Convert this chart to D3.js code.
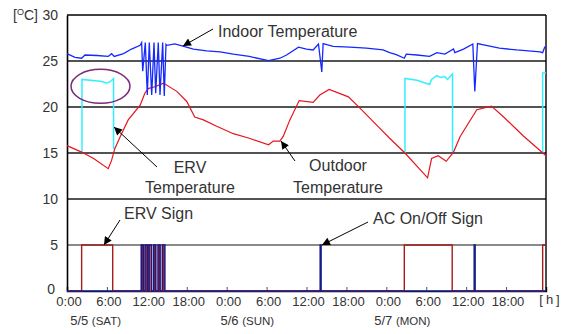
<!DOCTYPE html>
<html><head><meta charset="utf-8">
<script src="https://cdn.jsdelivr.net/npm/d3@7"></script>
<style>
body{margin:0;background:#fff;}
text{font-family:"Liberation Sans",Arial,sans-serif;fill:#333;}
</style></head>
<body><svg id="c" width="570" height="334"></svg>
<script>
// ---- data (hours since 5/5 0:00) ----
const xTickHours = [0,6,12,18,24,30,36,42,48,54,60,66];
const xTickLabels = ["0:00","6:00","12:00","18:00","0:00","6:00","12:00","18:00","0:00","6:00","12:00","18:00"];
const yTicks = [0,5,10,15,20,25,30];
const dayLabels = [["5/5 ","(SAT)"],["5/6 ","(SUN)"],["5/7 ","(MON)"]];
const dayLabelHours = [4.3,27.1,50.4];

const indoorHours = [0,1.2,2.2,2.7,4.5,6.2,6.7,7.1,8.5,9.7,11,
  11.22,11.38,11.77,12.07,12.37,12.73,13.08,13.33,13.72,13.98,14.38,14.62,14.88,
  15,16.2,17.7,19,21,23,25,27.4,28,30.3,32,33,34.8,36,37,37.8,38.3,38.5,40,42.5,45,47.5,48.5,49.5,
  50.7,51,52.6,54.5,55.6,56.8,58.1,58.3,59.6,61,61.3,61.7,63,65,67.6,71.1,71.5,71.8,72];
const indoorTemp = [25.8,25.4,25.3,25.65,25.6,25.5,25.8,25.5,25.8,26.3,26.7,
  27.0,23.9,27.0,21.3,27.0,21.3,27.0,21.5,27.0,21.3,27.0,21.2,26.8,
  26.7,26.85,26.55,26.3,26.1,26.0,25.75,25.5,25.4,25.05,25.3,25.65,26.5,26.3,26.2,26.85,23.8,26.9,26.6,26.5,26.4,26.2,25.9,25.7,
  25.3,25.75,25.65,25.5,25.9,25.75,26.3,25.9,26.3,26.85,21.7,26.9,26.7,26.4,26.2,26.0,25.9,26.5,26.5];

const outdoorHours = [0,2.2,4,6.2,6.7,7.2,8.2,9.2,11,11.7,12.2,13.2,14.5,16.5,18,19.2,20.5,22.5,25,27.4,
  30.3,31,32,32.5,33.5,34.9,37,38,39.4,42.3,44,47,48.5,50.8,54.2,54.8,55.8,57,58.1,59.1,61.6,63.8,65.8,68.6,72];
const outdoorTemp = [15.8,15.1,14.4,13.3,14.2,15.5,17.1,18.6,20.2,21.5,22.0,22.2,22.6,21.7,20.6,18.9,18.6,17.9,17.1,16.6,
  15.9,16.3,16.3,16.8,18.6,20.7,20.5,21.3,21.9,21.1,19.9,17.7,16.6,15.0,12.3,14.4,14.7,14.1,15.1,16.8,19.7,20.1,18.8,16.85,14.7];

// ERV supply temperature, only while ERV runs (one array per run)
const ervRuns = [
  {hours:[2.25,2.25,5.0,6.0,6.5,7.0,7.0], temp:[15.1,23.0,22.8,22.6,22.75,23.1,15.4]},
  {hours:[50.8,50.8,52.6,54.5,54.8,55.6,56.2,56.8,57.2,57.95,57.95], temp:[15.0,23.1,22.9,22.45,23.0,23.4,23.2,23.3,23.0,23.6,15.1]},
  {hours:[71.5,71.5,72], temp:[15.0,23.7,23.7]}
];

// on/off signs (5 = on), change times
const ervSignHours = [0,2.2,6.87,11.22,11.42,11.8,12.02,12.4,12.65,13.1,13.3,13.75,13.95,14.4,14.6,50.7,57.9,71.5,72];
const ervSignVals  = [0,5,0,5,0,5,0,5,0,5,0,5,0,5,0,5,0,5,5];
const acSignHours = [0,11.15,11.47,11.72,12.1,12.32,12.72,13.02,13.35,13.68,14.0,14.32,14.72,38.05,38.2,61.2,61.35,72];
const acSignVals  = [0,5,0,5,0,5,0,5,0,5,0,5,0,5,0,5,0,0];

// ---- drawing ----
const svg = d3.select("#c");
const x = d3.scaleLinear().domain([0,72]).range([67,546]);
const y = d3.scaleLinear().domain([0,30]).range([291,15]);

const defs = svg.append("defs");
defs.append("marker").attr("id","ah").attr("viewBox","0 0 10 10").attr("refX",10).attr("refY",5)
  .attr("markerWidth",11).attr("markerHeight",8).attr("markerUnits","userSpaceOnUse").attr("orient","auto")
  .append("path").attr("d","M0,0L10,5L0,10z").attr("fill","#000");

// grid lines
svg.append("g").selectAll("line").data([10,15,20,25]).join("line")
  .attr("x1",x(0)).attr("x2",x(72)).attr("y1",d=>y(d)).attr("y2",d=>y(d))
  .attr("stroke","#1a1a1a").attr("stroke-width",1.4);
svg.append("line").attr("x1",x(0)).attr("x2",x(72)).attr("y1",y(5)).attr("y2",y(5))
  .attr("stroke","#8a8a8a").attr("stroke-width",2);

// frame
svg.append("line").attr("x1",x(0)).attr("x2",x(72)).attr("y1",y(30)).attr("y2",y(30)).attr("stroke","#000").attr("stroke-width",1.4);
svg.append("line").attr("x1",x(72)).attr("x2",x(72)).attr("y1",y(30)).attr("y2",y(0)).attr("stroke","#000").attr("stroke-width",1.4);

// x axis
const xAxis = d3.axisBottom(x).tickValues(xTickHours).tickSize(-4).tickPadding(6)
  .tickFormat((d,i)=>xTickLabels[i]);
const gx = svg.append("g").attr("transform",`translate(0,${y(0)})`).call(xAxis);
gx.select(".domain").attr("stroke","#000").attr("stroke-width",1.4);
gx.selectAll(".tick line").attr("stroke","#555");
gx.selectAll(".tick text").attr("font-size",13).attr("dx",1.5).attr("fill","#333").style("font-family","'Liberation Sans',Arial,sans-serif");
svg.append("text").attr("x",551).attr("y",y(0)+13).attr("text-anchor","middle").attr("font-size",13)
  .attr("letter-spacing",3).text("[h]");

// y axis
const yAxis = d3.axisLeft(y).tickValues(yTicks).tickSize(0).tickPadding(9);
const gy = svg.append("g").attr("transform",`translate(${x(0)},0)`).call(yAxis);
gy.select(".domain").attr("stroke","#000").attr("stroke-width",1.6);
gy.selectAll(".tick text").attr("font-size",14).attr("fill","#333").style("font-family","'Liberation Sans',Arial,sans-serif")
  .attr("dx",d=>d===0?-3:0).attr("dy",d=>d===0?"0.2em":"0.32em");
const unit = svg.append("text").attr("x",38).attr("y",y(30)+5).attr("text-anchor","end").attr("font-size",14);
unit.append("tspan").text("[");
unit.append("tspan").attr("font-size",9).attr("dy",-5).text("O");
unit.append("tspan").attr("dy",5).text("C]");

// day labels
dayLabels.forEach((d,i)=>{
  const t = svg.append("text").attr("x",x(dayLabelHours[i])).attr("y",325).attr("text-anchor","middle").attr("font-size",13);
  t.append("tspan").text(d[0]);
  t.append("tspan").attr("font-size",11.5).text(d[1]);
});

// lines
const line = (xs) => d3.line().x((d,i)=>x(xs[i])).y(d=>y(d));
ervRuns.forEach(r=>{
  svg.append("path").datum(r.temp).attr("d",line(r.hours)).attr("fill","none")
    .attr("stroke","#33f0ff").attr("stroke-width",1.5);
});
svg.append("path").datum(outdoorTemp).attr("d",line(outdoorHours)).attr("fill","none")
  .attr("stroke","#e8141e").attr("stroke-width",1.2);
svg.append("path").datum(indoorTemp).attr("d",line(indoorHours)).attr("fill","none")
  .attr("stroke","#1428ff").attr("stroke-width",1.3);

const stepLine = (xs) => d3.line().x((d,i)=>x(xs[i])).y(d=>y(d)).curve(d3.curveStepAfter);
svg.append("path").datum(ervSignVals).attr("d",stepLine(ervSignHours)).attr("fill","none")
  .attr("stroke","#a81c1c").attr("stroke-width",1.4);
svg.append("path").datum(acSignVals).attr("d",stepLine(acSignHours)).attr("fill","none")
  .attr("stroke","#141c8c").attr("stroke-width",1.4);

// ellipse highlight
svg.append("ellipse").attr("cx",100.5).attr("cy",86.3).attr("rx",29.5).attr("ry",17)
  .attr("fill","none").attr("stroke","#7a2a78").attr("stroke-width",1.5);

// annotations
const arrows = [[213,29,183,46],[157,167,114,127],[295,161,281,141],[120,220,104,245],[368,222,322,245]];
svg.append("g").selectAll("line").data(arrows).join("line")
  .attr("x1",d=>d[0]).attr("y1",d=>d[1]).attr("x2",d=>d[2]).attr("y2",d=>d[3])
  .attr("stroke","#000").attr("stroke-width",1).attr("marker-end","url(#ah)");

const notes = [
  ["Indoor Temperature",218,37,"start"],
  ["ERV",190,173,"middle"],["Temperature",190,193,"middle"],
  ["Outdoor",338,171,"middle"],["Temperature",338,193,"middle"],
  ["ERV Sign",124,219,"start"],["AC On/Off Sign",373,224,"start"]
];
svg.append("g").selectAll("text").data(notes).join("text")
  .attr("x",d=>d[1]).attr("y",d=>d[2]).attr("text-anchor",d=>d[3]).attr("font-size",16).text(d=>d[0]);
</script></body></html>
